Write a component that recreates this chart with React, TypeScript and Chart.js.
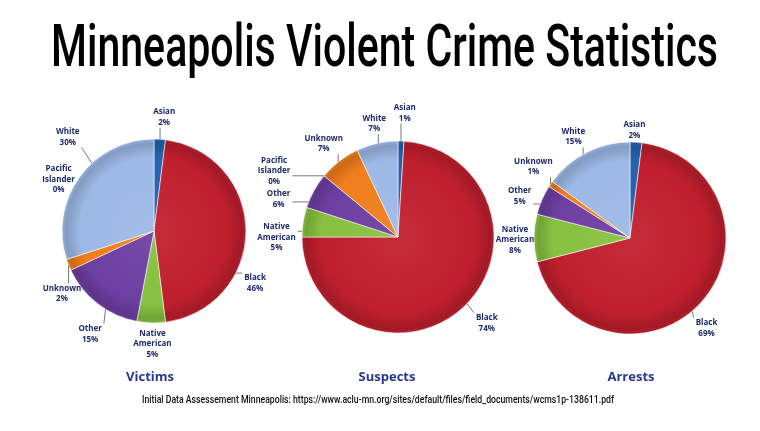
import React, { useEffect, useLayoutEffect, useRef } from "react";
import { Chart, registerables } from "chart.js";

Chart.register(...registerables);

// ---------- data ----------
const VICTIM_CATEGORIES = ["Asian", "Black", "Native American", "Other", "Unknown", "Pacific Islander", "White"];
const VICTIM_VALUES = [2, 46, 5, 15, 2, 0, 30];

const SUSPECT_CATEGORIES = ["Asian", "Black", "Native American", "Other", "Pacific Islander", "Unknown", "White"];
const SUSPECT_VALUES = [1, 74, 5, 6, 0, 7, 7];

const ARREST_CATEGORIES = ["Asian", "Black", "Native American", "Other", "Unknown", "White"];
const ARREST_VALUES = [2, 69, 8, 5, 1, 15];

const TITLE = "Minneapolis Violent Crime Statistics";
const SOURCE = "Initial Data Assessement Minneapolis: https://www.aclu-mn.org/sites/default/files/field_documents/wcms1p-138611.pdf";

// ---------- styles ----------
const COLORS: Record<string, string> = {
  Asian: "#2462B0",
  Black: "#C01F2D",
  "Native American": "#86C140",
  Other: "#6D3FA2",
  Unknown: "#F07E1C",
  "Pacific Islander": "#3A8F8A",
  White: "#9DB9E6",
};

// label nudges [dx, dy, leader] relative to default outside position
const VICTIM_NUDGES = [[3, 0, 1], [-13, 52, 1], [2, -1, 0], [6, 13, 1], [14, 21, 1], [13, -87, 0], [6, -27, 1]];
const SUSPECT_NUDGES = [[3, -6, 1], [8, 0, 1], [-5, 19, 1], [-16, 19, 1], [-33, 9, 1], [-2, 0, 1], [2, 2, 1]];
const ARREST_NUDGES = [[-3, 10, 0], [-12, 12, 1], [3, 2, 0], [-2, 5, 1], [1, -5, 1], [-3, 4, 1]];

function shade(hex: string, f: number) {
  const n = parseInt(hex.slice(1), 16);
  let r = (n >> 16) & 255, g = (n >> 8) & 255, b = n & 255;
  const t = f < 0 ? 0 : 255;
  const p = Math.abs(f);
  r = Math.round(r + (t - r) * p);
  g = Math.round(g + (t - g) * p);
  b = Math.round(b + (t - b) * p);
  return `rgb(${r},${g},${b})`;
}

const labelPlugin = {
  id: "sliceLabels",
  afterDatasetsDraw(chart: any, _args: any, opts: any) {
    const { ctx } = chart;
    const meta = chart.getDatasetMeta(0);
    const cats = chart.data.labels as string[];
    const vals = chart.data.datasets[0].data as number[];
    const nudges = opts.nudges || [];
    ctx.save();
    ctx.font = "bold 8px 'Open Sans', sans-serif";
    ctx.textAlign = "center";
    ctx.textBaseline = "middle";
    meta.data.forEach((arc: any, i: number) => {
      const nd = nudges[i];
      if (!nd) return;
      const p = arc.getProps(["x", "y", "startAngle", "endAngle", "outerRadius"], true);
      const mid = (p.startAngle + p.endAngle) / 2;
      const R = p.outerRadius + 22;
      const lx = p.x + Math.cos(mid) * R + nd[0];
      const ly = p.y + Math.sin(mid) * R + nd[1];
      const lines = [...String(cats[i]).split(" "), vals[i] + "%"];
      const lh = 10.5;
      const w = Math.max(...lines.map((l) => ctx.measureText(l).width));
      const h = lines.length * lh;
      if (nd[2]) {
        let a = Math.atan2(ly - p.y, lx - p.x);
        if (a < -Math.PI / 2) a += Math.PI * 2;
        const span = p.endAngle - p.startAngle;
        const pad = Math.min(0.06, span / 2);
        a = Math.max(p.startAngle + pad, Math.min(p.endAngle - pad, a));
        const ax = p.x + Math.cos(a) * p.outerRadius;
        const ay = p.y + Math.sin(a) * p.outerRadius;
        const bx = Math.max(lx - w / 2 - 2, Math.min(lx + w / 2 + 2, ax));
        const by = Math.max(ly - h / 2, Math.min(ly + h / 2, ay));
        ctx.beginPath();
        ctx.moveTo(ax, ay);
        ctx.lineTo(bx, by);
        ctx.strokeStyle = "#6A6A6A";
        ctx.lineWidth = 0.9;
        ctx.stroke();
      }
      ctx.fillStyle = "#1C2A6C";
      lines.forEach((l, j) => ctx.fillText(l, lx, ly - h / 2 + lh * (j + 0.5)));
    });
    ctx.restore();
  },
};

type PieProps = {
  categories: string[];
  values: number[];
  nudges: number[][];
  rect: { x: number; y: number; w: number; h: number };
  cx: number;
  cy: number;
  r: number;
};

function Pie({ categories, values, nudges, rect, cx, cy, r }: PieProps) {
  const ref = useRef<HTMLCanvasElement>(null);
  useEffect(() => {
    const colors = categories.map((c) => COLORS[c]);
    const size = 2 * r + 1;
    const left = cx - rect.x - size / 2;
    const top = cy - rect.y - size / 2;
    const chart = new Chart(ref.current as HTMLCanvasElement, {
      type: "pie",
      data: {
        labels: categories,
        datasets: [
          {
            data: values,
            backgroundColor: (ctx: any) => {
              const base = colors[ctx.dataIndex];
              const ca = ctx.chart.chartArea;
              if (!ca) return base;
              const x = (ca.left + ca.right) / 2;
              const y = (ca.top + ca.bottom) / 2;
              const rr = Math.min(ca.width, ca.height) / 2;
              const g = ctx.chart.ctx.createRadialGradient(x, y, 0, x, y, rr);
              g.addColorStop(0, shade(base, 0.06));
              g.addColorStop(0.8, base);
              g.addColorStop(0.95, shade(base, -0.16));
              g.addColorStop(1, shade(base, -0.04));
              return g;
            },
            borderColor: "rgba(255,255,255,0.55)",
            borderWidth: 1,
          },
        ],
      },
      options: {
        responsive: false,
        animation: false,
        layout: {
          padding: { left, top, right: rect.w - left - size, bottom: rect.h - top - size },
        },
        plugins: {
          legend: { display: false },
          tooltip: { enabled: false },
          // @ts-ignore
          sliceLabels: { nudges },
        },
      },
      plugins: [labelPlugin],
    } as any);
    return () => chart.destroy();
  }, []);
  return (
    <canvas
      ref={ref}
      width={rect.w}
      height={rect.h}
      style={{ position: "absolute", left: rect.x, top: rect.y, width: rect.w, height: rect.h }}
    />
  );
}

function FitText({ text, left, top, width, style }: { text: string; left: number; top: number; width: number; style: any }) {
  const ref = useRef<HTMLSpanElement>(null);
  useLayoutEffect(() => {
    const el = ref.current as HTMLSpanElement;
    const fit = () => {
      el.style.transform = "none";
      const w = el.getBoundingClientRect().width;
      el.style.transform = `scaleX(${width / w})`;
    };
    fit();
    (document as any).fonts?.ready?.then(fit);
  }, []);
  return (
    <span
      ref={ref}
      style={{ position: "absolute", left, top, whiteSpace: "nowrap", transformOrigin: "0 0", lineHeight: 1, ...style }}
    >
      {text}
    </span>
  );
}

const SUB_STYLE = {
  position: "absolute" as const,
  top: 369.5,
  width: 120,
  textAlign: "center" as const,
  font: "700 13px 'Open Sans', sans-serif",
  lineHeight: 1,
  color: "#26388E",
};

export default function App() {
  return (
    <div
      style={{
        position: "fixed",
        left: 0,
        top: 0,
        width: 760,
        height: 431,
        background: "#fff",
        overflow: "hidden",
      }}
    >
      <FitText
        text={TITLE}
        left={51}
        top={10.5}
        width={667}
        style={{ font: "500 59px Roboto, sans-serif", color: "#000" }}
      />
      <Pie categories={VICTIM_CATEGORIES} values={VICTIM_VALUES} nudges={VICTIM_NUDGES} rect={{ x: 0, y: 90, w: 290, h: 280 }} cx={154} cy={231} r={92} />
      <Pie categories={SUSPECT_CATEGORIES} values={SUSPECT_VALUES} nudges={SUSPECT_NUDGES} rect={{ x: 250, y: 90, w: 260, h: 280 }} cx={398} cy={237} r={96} />
      <Pie categories={ARREST_CATEGORIES} values={ARREST_VALUES} nudges={ARREST_NUDGES} rect={{ x: 490, y: 90, w: 270, h: 280 }} cx={630} cy={238} r={96} />
      <div style={{ ...SUB_STYLE, left: 150 - 60 }}>Victims</div>
      <div style={{ ...SUB_STYLE, left: 387 - 60 }}>Suspects</div>
      <div style={{ ...SUB_STYLE, left: 631 - 60 }}>Arrests</div>
      <FitText
        text={SOURCE}
        left={142}
        top={391.5}
        width={472}
        style={{ font: "500 11.5px Roboto, sans-serif", color: "#111" }}
      />
    </div>
  );
}
